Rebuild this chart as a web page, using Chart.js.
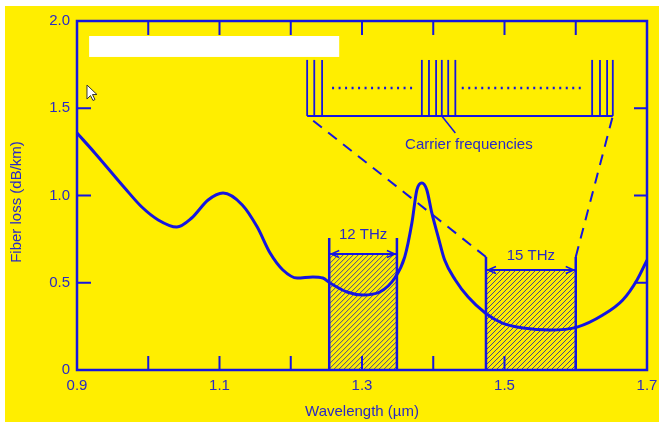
<!DOCTYPE html>
<html>
<head>
<meta charset="utf-8">
<script src="https://cdn.jsdelivr.net/npm/chart.js@4/dist/chart.umd.min.js"></script>
<style>
  html, body { margin: 0; padding: 0; background: #fff; }
</style>
</head>
<body>
<canvas id="grafico" width="659" height="422"></canvas>
<script>
// curva de perdida de la fibra
const longitudes = [0.900, 0.925, 0.967, 0.991, 1.014, 1.040, 1.061, 1.084, 1.105, 1.132,
  1.153, 1.171, 1.189, 1.209, 1.231, 1.245, 1.255, 1.279, 1.301, 1.325,
  1.346, 1.360, 1.370, 1.377, 1.384, 1.391, 1.398, 1.407, 1.416, 1.431,
  1.449, 1.473, 1.497, 1.526, 1.564, 1.602, 1.638, 1.666, 1.686, 1.700];
const perdidas = [1.358, 1.244, 1.043, 0.934, 0.860, 0.819, 0.871, 0.974, 1.014, 0.946,
  0.819, 0.670, 0.573, 0.527, 0.533, 0.527, 0.499, 0.447, 0.430, 0.447,
  0.527, 0.648, 0.842, 1.032, 1.072, 1.032, 0.900, 0.762, 0.630, 0.516,
  0.418, 0.327, 0.269, 0.241, 0.229, 0.246, 0.315, 0.401, 0.516, 0.630];

const marcasX = [1.0, 1.1, 1.2, 1.3, 1.4, 1.5, 1.6];
const etiquetasX = [0.9, 1.1, 1.3, 1.5, 1.7];
const etiquetasY = [0, 0.5, 1.0, 1.5, 2.0];
const marcasY = [0.5, 1.0, 1.5];

// ventanas de transmision
const bandaNombres = ['12 THz', '15 THz'];
const bandaDesde = [1.254, 1.474];
const bandaHasta = [1.349, 1.600];
const bandaAlto = [0.665, 0.573];
const bandaGuia = [0.756, 0.648];
const bandaTextoY = [0.774, 0.653];

// portadoras
const portadoras = [1.223, 1.233, 1.244, 1.384, 1.394, 1.404, 1.412, 1.421, 1.431, 1.623, 1.634, 1.644, 1.652];
const cajaDesde = 1.223, cajaHasta = 1.652, cajaBase = 1.456, cajaTope = 1.777;
const puntosTramos = [[1.258, 1.374], [1.440, 1.613]];
const puntosY = 1.616;

const AMARILLO = '#ffee00';
const AZUL = '#1515e0';
const TEXTO = '#2a2ac4';
const FUENTE = '"Liberation Sans", Arial, sans-serif';

function flecha(ctx, x, y, dir) {
  ctx.beginPath();
  ctx.moveTo(x + dir * 8, y - 3.5);
  ctx.lineTo(x, y);
  ctx.lineTo(x + dir * 8, y + 3.5);
  ctx.stroke();
}

const dibujo = {
  id: 'dibujo',
  beforeDraw(chart) {
    const ctx = chart.ctx;
    ctx.save();
    ctx.fillStyle = '#fff';
    ctx.fillRect(0, 0, chart.width, chart.height);
    ctx.fillStyle = AMARILLO;
    ctx.fillRect(5, 6, chart.width - 5, chart.height - 6);
    ctx.restore();
  },
  beforeDatasetsDraw(chart) {
    const ctx = chart.ctx;
    const sx = chart.scales.x, sy = chart.scales.y;
    const px = v => sx.getPixelForValue(v);
    const py = v => sy.getPixelForValue(v);
    const a = chart.chartArea;
    ctx.save();

    // bandas rayadas
    bandaDesde.forEach((d, i) => {
      const x1 = px(d), x2 = px(bandaHasta[i]);
      const yt = py(bandaAlto[i]), yb = py(0);
      ctx.save();
      ctx.beginPath();
      ctx.rect(x1, yt, x2 - x1, yb - yt);
      ctx.clip();
      ctx.strokeStyle = 'rgba(50,50,160,0.9)';
      ctx.lineWidth = 1;
      const h = yb - yt;
      for (let k = -h; k < x2 - x1 + h; k += 5) {
        ctx.beginPath();
        ctx.moveTo(x1 + k, yb);
        ctx.lineTo(x1 + k + h, yt);
        ctx.stroke();
      }
      ctx.restore();

      ctx.strokeStyle = AZUL;
      ctx.lineWidth = 2.5;
      ctx.beginPath();
      ctx.moveTo(x1, yb); ctx.lineTo(x1, py(bandaGuia[i]));
      ctx.moveTo(x2, yb); ctx.lineTo(x2, py(bandaGuia[i]));
      ctx.stroke();
      ctx.lineWidth = 2;
      ctx.beginPath();
      ctx.moveTo(x1, yt); ctx.lineTo(x2, yt);
      ctx.stroke();
      ctx.lineWidth = 1.5;
      flecha(ctx, x1 + 2, yt, 1);
      flecha(ctx, x2 - 2, yt, -1);

      ctx.fillStyle = TEXTO;
      ctx.font = '15px ' + FUENTE;
      ctx.textAlign = 'center';
      ctx.textBaseline = 'middle';
      ctx.fillText(bandaNombres[i], (x1 + x2) / 2, py(bandaTextoY[i]));
    });

    // lineas de trazos hacia la caja de portadoras
    ctx.strokeStyle = AZUL;
    ctx.lineWidth = 2;
    ctx.setLineDash([11, 8]);
    ctx.beginPath();
    ctx.moveTo(px(bandaDesde[1]), py(bandaGuia[1]));
    ctx.lineTo(px(cajaDesde), py(cajaBase));
    ctx.moveTo(px(bandaHasta[1]), py(bandaGuia[1]));
    ctx.lineTo(px(cajaHasta), py(cajaBase));
    ctx.stroke();
    ctx.setLineDash([]);

    // caja de portadoras
    ctx.lineWidth = 2;
    ctx.beginPath();
    ctx.moveTo(px(cajaDesde), py(cajaBase));
    ctx.lineTo(px(cajaHasta), py(cajaBase));
    ctx.stroke();
    ctx.lineWidth = 1.8;
    portadoras.forEach(p => {
      ctx.beginPath();
      ctx.moveTo(px(p), py(cajaBase));
      ctx.lineTo(px(p), py(cajaTope));
      ctx.stroke();
    });
    ctx.lineWidth = 2.5;
    ctx.setLineDash([2, 4.5]);
    puntosTramos.forEach(t => {
      ctx.beginPath();
      ctx.moveTo(px(t[0]), py(puntosY));
      ctx.lineTo(px(t[1]), py(puntosY));
      ctx.stroke();
    });
    ctx.setLineDash([]);
    ctx.lineWidth = 1.5;
    ctx.beginPath();
    ctx.moveTo(px(1.412), py(cajaBase));
    ctx.lineTo(px(1.431), py(1.358));
    ctx.stroke();
    ctx.fillStyle = TEXTO;
    ctx.font = '15px ' + FUENTE;
    ctx.textAlign = 'center';
    ctx.textBaseline = 'middle';
    ctx.fillText('Carrier frequencies', px(1.450), py(1.289));

    // marco y marcas hacia dentro
    ctx.strokeStyle = AZUL;
    ctx.lineWidth = 2.5;
    ctx.strokeRect(a.left, a.top, a.right - a.left, a.bottom - a.top);
    ctx.lineWidth = 2;
    ctx.beginPath();
    marcasX.forEach(v => {
      ctx.moveTo(px(v), a.bottom); ctx.lineTo(px(v), a.bottom - 14);
      ctx.moveTo(px(v), a.top); ctx.lineTo(px(v), a.top + 14);
    });
    marcasY.forEach(v => {
      ctx.moveTo(a.left, py(v)); ctx.lineTo(a.left + 14, py(v));
      ctx.moveTo(a.right, py(v)); ctx.lineTo(a.right - 13, py(v));
    });
    ctx.stroke();

    // titulo eje y
    ctx.save();
    ctx.translate(17, 202);
    ctx.rotate(-Math.PI / 2);
    ctx.fillStyle = TEXTO;
    ctx.font = '15px ' + FUENTE;
    ctx.textAlign = 'center';
    ctx.textBaseline = 'middle';
    ctx.fillText('Fiber loss (dB/km)', 0, 0);
    ctx.restore();

    // recuadro blanco y cursor
    ctx.fillStyle = '#fff';
    const bx1 = px(0.917), bx2 = px(1.268), by1 = py(1.914), by2 = py(1.794);
    ctx.fillRect(bx1, by1, bx2 - bx1, by2 - by1);
    const cx = px(0.914), cy = py(1.633);
    ctx.beginPath();
    ctx.moveTo(cx, cy);
    ctx.lineTo(cx, cy + 14);
    ctx.lineTo(cx + 3.5, cy + 10.5);
    ctx.lineTo(cx + 6, cy + 15.5);
    ctx.lineTo(cx + 8, cy + 14.5);
    ctx.lineTo(cx + 5.5, cy + 9.5);
    ctx.lineTo(cx + 10, cy + 9.5);
    ctx.closePath();
    ctx.fillStyle = '#fff';
    ctx.fill();
    ctx.strokeStyle = '#333';
    ctx.lineWidth = 1;
    ctx.stroke();

    ctx.restore();
  }
};

new Chart(document.getElementById('grafico'), {
  type: 'line',
  data: {
    datasets: [{
      data: longitudes.map((x, i) => ({ x: x, y: perdidas[i] })),
      borderColor: AZUL,
      borderWidth: 3,
      pointRadius: 0,
      cubicInterpolationMode: 'monotone',
      fill: false
    }]
  },
  options: {
    responsive: false,
    animation: false,
    events: [],
    layout: { padding: { top: 21, right: 12, left: 0, bottom: 0 } },
    plugins: { legend: { display: false }, tooltip: { enabled: false } },
    scales: {
      x: {
        type: 'linear', min: 0.9, max: 1.7,
        afterBuildTicks: s => { s.ticks = etiquetasX.map(v => ({ value: v })); },
        afterFit: s => { s.height = 52; s.paddingLeft = 0; s.paddingRight = 0; },
        ticks: { callback: v => v.toFixed(1), color: TEXTO, font: { family: FUENTE, size: 15 }, padding: 7, maxRotation: 0, autoSkip: false },
        grid: { display: false, drawTicks: false },
        border: { display: false },
        title: { display: true, text: 'Wavelength (µm)', color: TEXTO, font: { family: FUENTE, size: 15 }, padding: { top: 0, bottom: 1 } }
      },
      y: {
        min: 0, max: 2,
        afterBuildTicks: s => { s.ticks = etiquetasY.map(v => ({ value: v })); },
        afterFit: s => { s.width = 77; s.paddingTop = 0; s.paddingBottom = 0; },
        ticks: { callback: v => v === 0 ? '0' : v.toFixed(1), color: TEXTO, font: { family: FUENTE, size: 15 }, padding: 7 },
        grid: { display: false, drawTicks: false },
        border: { display: false }
      }
    }
  },
  plugins: [dibujo]
});
</script>
</body>
</html>
